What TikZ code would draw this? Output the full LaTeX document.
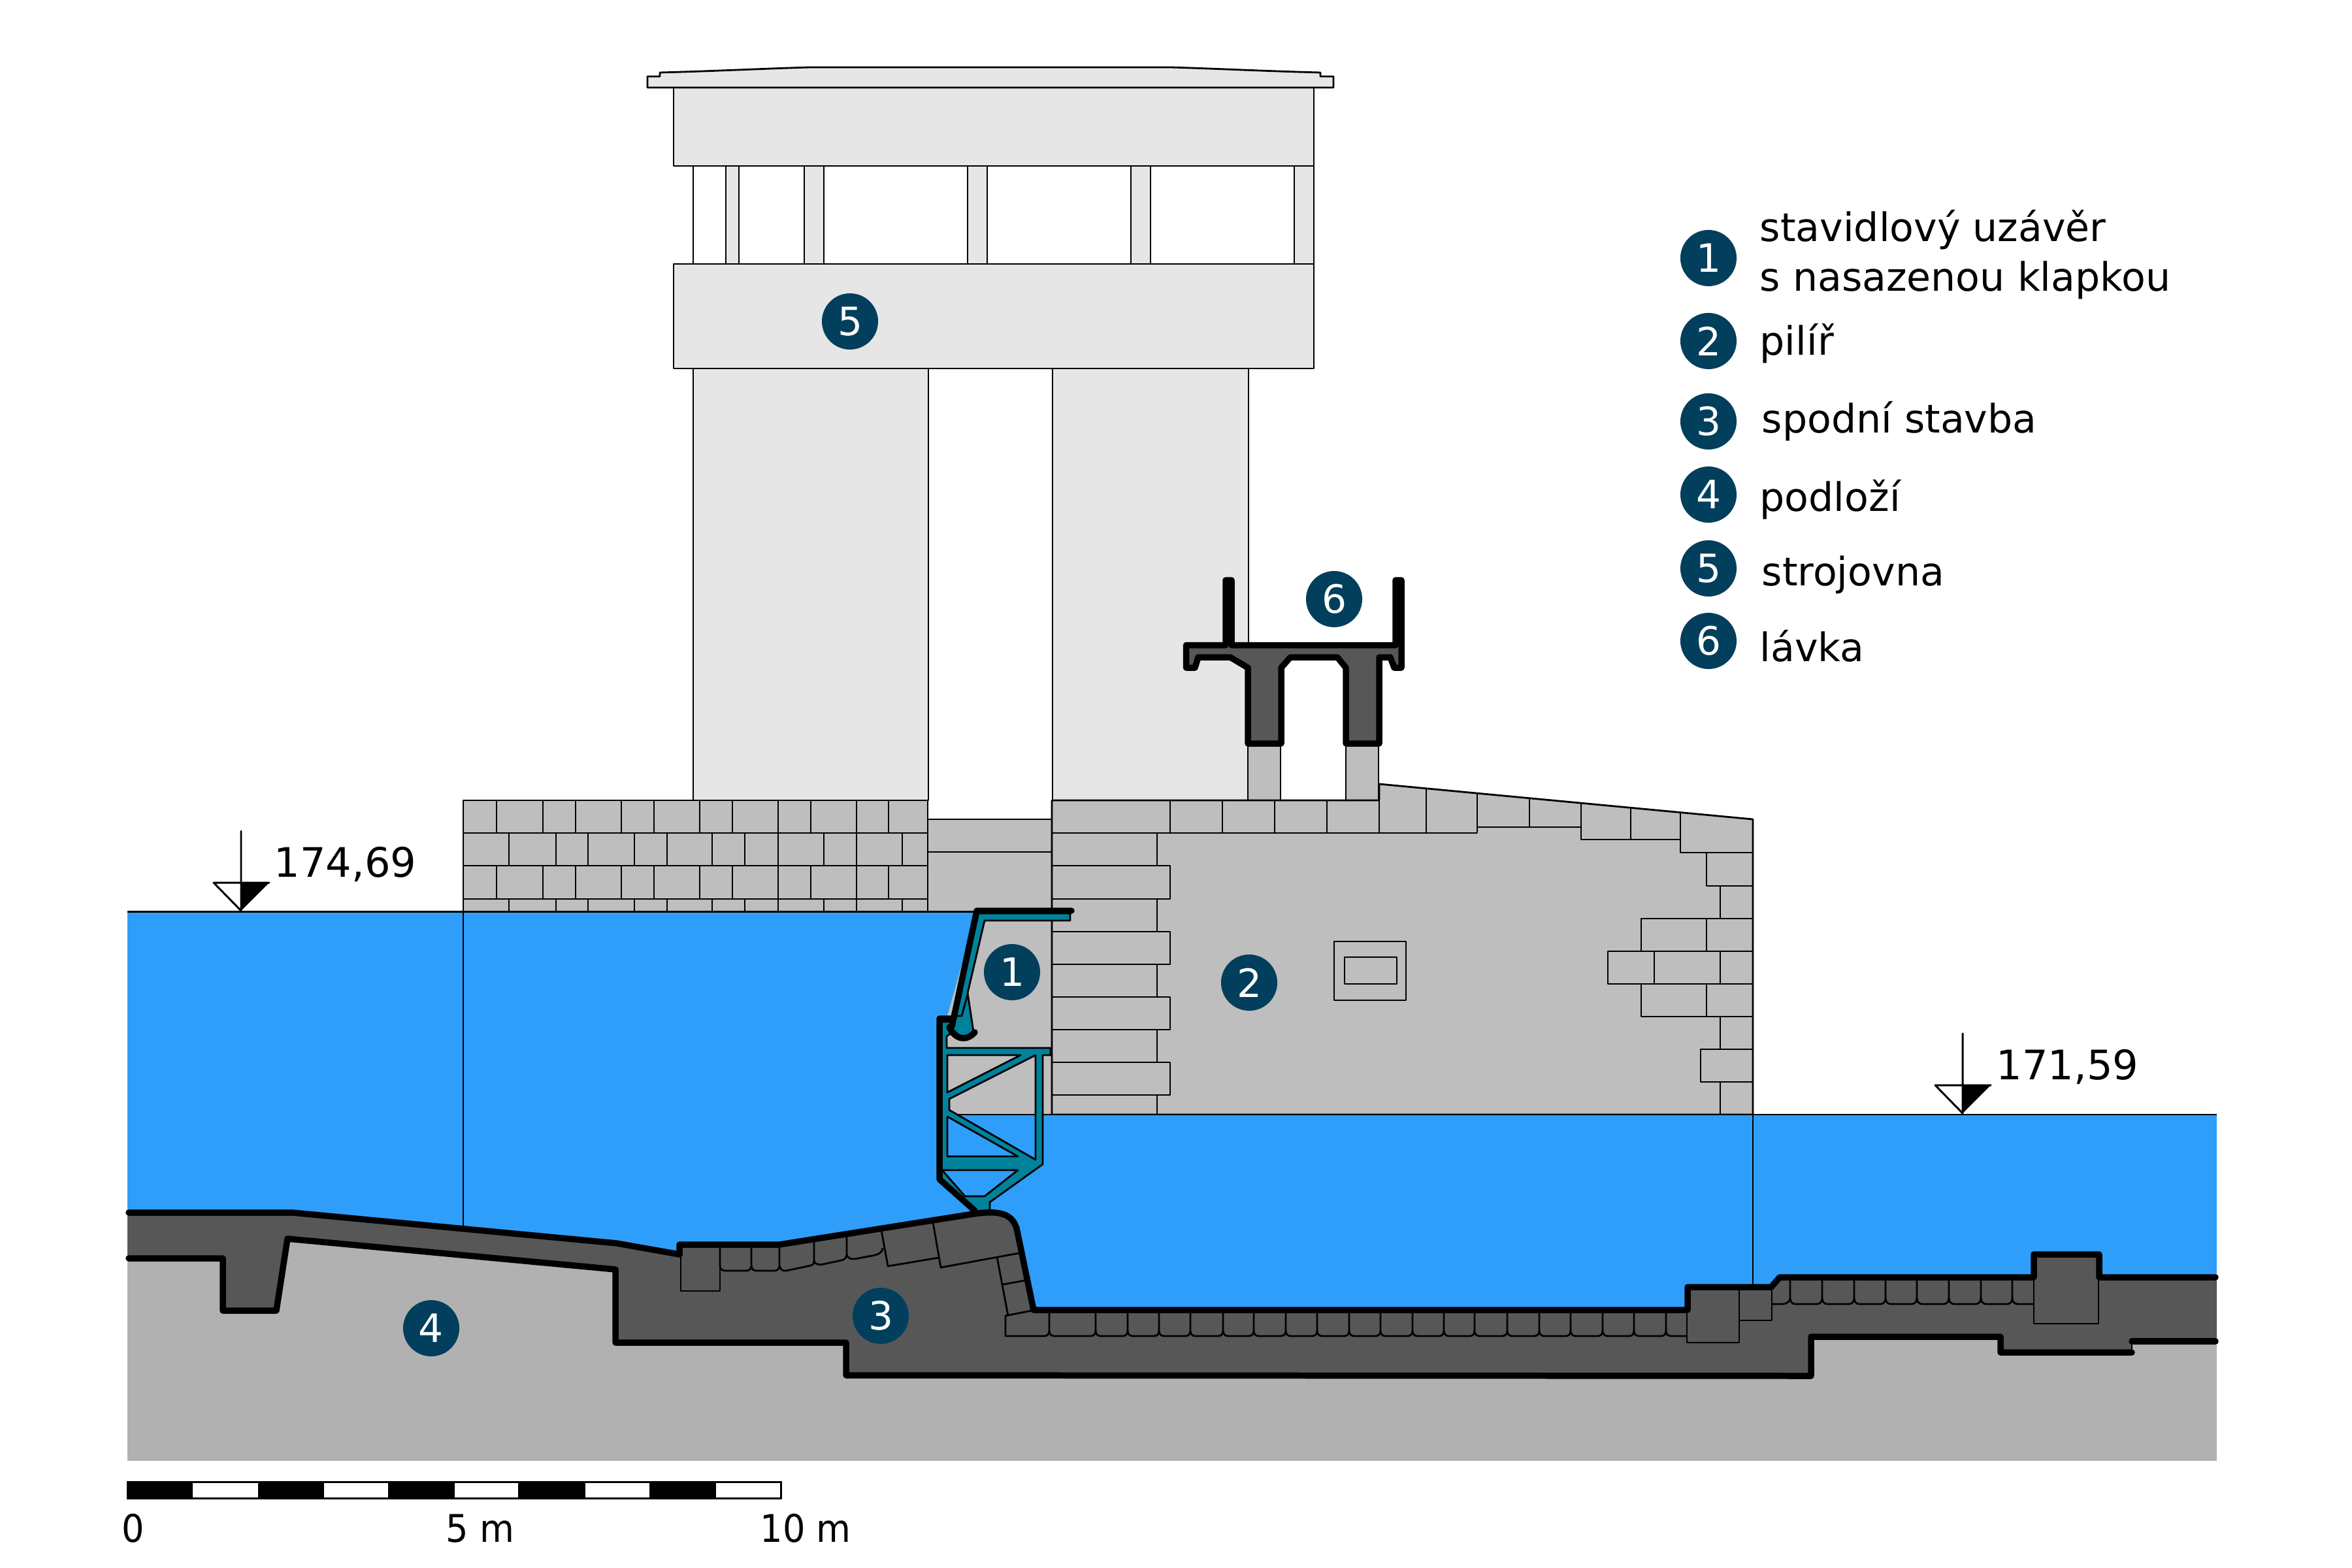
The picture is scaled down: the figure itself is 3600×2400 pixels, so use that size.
\documentclass[tikz,border=0pt]{standalone}
\usepackage{fontspec}
\setmainfont{DejaVu Sans}
\newfontfamily\barfont[FakeStretch=0.93]{DejaVu Sans}
\definecolor{waterblue}{HTML}{2F9EFA}
\definecolor{wallgray}{HTML}{BEBEBE}
\definecolor{towergray}{HTML}{E6E6E6}
\definecolor{rockgray}{HTML}{B1B1B1}
\definecolor{concrete}{HTML}{575757}
\definecolor{gateteal}{HTML}{00829B}
\definecolor{dotblue}{HTML}{023F5C}
\tikzset{
	thin line/.style={line width=0.8pt, line join=round},
	thick line/.style={line width=2.7pt, line join=round, line cap=round},
	numdot/.style={circle, fill=dotblue, text=white, inner sep=0pt, minimum size=0.86cm, font=\fontsize{17}{20}\selectfont},
	tag/.style={anchor=base west, inner sep=0pt, font=\fontsize{17.1}{21.6}\selectfont},
	leveltag/.style={tag, font=\fontsize{17.7}{21.6}\selectfont},
	scaletag/.style={tag, font=\barfont\fontsize{16.6}{20}\selectfont},
}
\begin{document}
\begin{tikzpicture}[x=0.01cm, y=-0.01cm]
	\useasboundingbox (0,0) rectangle (3600,2400);
	% machine house
	\draw [thin line, fill=towergray] (1061,564) rectangle (1421,1225);
	\draw [thin line, fill=towergray] (1611,564) rectangle (1911,1225);
	\draw [thin line] (1061,254) -- (1061,404);
	\foreach \xa/\xb in {1111/1131, 1231/1261, 1481/1511, 1731/1761, 1981/2011}
		\draw [thin line, fill=towergray] (\xa,254) rectangle (\xb,404);
	\draw [thin line, fill=towergray] (1031,134) rectangle (2011,254);
	\draw [thin line, fill=towergray] (1031,404) rectangle (2011,564);
	\draw [thin line, fill=towergray] (991,134) -- (991,117) -- (1010,117) -- (1010,111)
		.. controls (1090,109) and (1170,105) .. (1239,103) -- (1792,103)
		.. controls (1860,105) and (1940,109) .. (2021,111) -- (2021,117) -- (2041,117) -- (2041,134) -- cycle;
	% left wall
	\draw [thin line, fill=wallgray] (709,1225) rectangle (1420,1395);
	\foreach \yy in {1275, 1325, 1376}
		\draw [thin line] (709,\yy) -- (1420,\yy);
	\foreach \xx in {760,831,881,951,1001,1071,1121,1191,1241,1311,1360} {
		\draw [thin line] (\xx,1225) -- (\xx,1275);
		\draw [thin line] (\xx,1325) -- (\xx,1376);
	}
	\foreach \xx in {779,851,900,971,1021,1090,1140,1191,1261,1311,1381} {
		\draw [thin line] (\xx,1275) -- (\xx,1325);
		\draw [thin line] (\xx,1376) -- (\xx,1395);
	}
	% middle part behind the gate
	\draw [thin line, fill=wallgray] (1420,1254) rectangle (1610,1706);
	\draw [thin line] (1420,1304) -- (1610,1304);
	% pier
	\draw [thin line, fill=wallgray] (1910,1225) rectangle (1960,1138);
	\draw [thin line, fill=wallgray] (2060,1225) rectangle (2110,1138);
	\draw [thin line, fill=wallgray] (1610,1225) -- (2111,1225) -- (2111,1200) -- (2683,1254) -- (2683,1706) -- (1610,1706) -- cycle;
	\foreach \xx in {1791,1871,1951,2031}
		\draw [thin line] (\xx,1225) -- (\xx,1275);
	\draw [thin line] (2111,1200) -- (2111,1275);
	\draw [thin line] (2183,1207) -- (2183,1275);
	\draw [thin line] (2261,1214) -- (2261,1275);
	\draw [thin line] (1610,1275) -- (2261,1275);
	\draw [thin line] (2341,1222) -- (2341,1266);
	\draw [thin line] (2261,1266) -- (2420,1266);
	\draw [thin line] (2420,1229) -- (2420,1285) -- (2572,1285) -- (2572,1305) -- (2683,1305);
	\draw [thin line] (2496,1236) -- (2496,1285);
	\draw [thin line] (2572,1243) -- (2572,1285);
	\draw [thin line] (2612,1305) -- (2612,1356) -- (2683,1356);
	\draw [thin line] (2633,1356) -- (2633,1406);
	\draw [thin line] (2683,1406) -- (2512,1406) -- (2512,1456);
	\draw [thin line] (2612,1406) -- (2612,1456);
	\draw [thin line] (2683,1456) -- (2461,1456) -- (2461,1506) -- (2683,1506);
	\draw [thin line] (2532,1456) -- (2532,1506);
	\draw [thin line] (2633,1456) -- (2633,1506);
	\draw [thin line] (2512,1506) -- (2512,1556) -- (2683,1556);
	\draw [thin line] (2612,1506) -- (2612,1556);
	\draw [thin line] (2633,1556) -- (2633,1606);
	\draw [thin line] (2683,1606) -- (2603,1606) -- (2603,1656) -- (2683,1656);
	\draw [thin line] (2633,1656) -- (2633,1706);
	\foreach \ya/\yb in {1325/1376, 1426/1476, 1526/1576, 1626/1676}
		\draw [thin line] (1610,\ya) -- (1791,\ya) -- (1791,\yb) -- (1610,\yb);
	\foreach \ya/\yb in {1275/1325, 1376/1426, 1476/1526, 1576/1626, 1676/1706}
		\draw [thin line] (1771,\ya) -- (1771,\yb);
	\draw [thin line] (2042,1441) rectangle (2152,1531);
	\draw [thin line] (2058,1465) rectangle (2138,1506);
	% rock
	\fill [rockgray] (195,1850) rectangle (3393,2236);
	% water
	\fill [waterblue] (195,1395) -- (1495,1395) -- (1440,1590) -- (1440,1900) -- (1200,1904) -- (1040,1920) -- (944,1905) -- (447,1860) -- (195,1860) -- cycle;
	\fill [waterblue] (1440,1706) rectangle (3393,2010);
	\draw [thin line, line width=0.85pt] (195,1395) -- (1495,1395);
	\draw [thin line] (1453,1706) -- (3393,1706);
	\draw [thin line] (709,1395) -- (709,1880);
	\draw [thin line] (2683,1706) -- (2683,1970);
	% gate
	\draw [thin line, fill=gateteal, even odd rule]
		(1438,1564) -- (1455,1564) -- (1458,1580) -- (1449,1586) -- (1449,1604) -- (1608,1604) -- (1608,1615)
		-- (1596,1615) -- (1596,1782) -- (1515,1840) -- (1515,1856) -- (1490,1856) -- (1438,1805) -- cycle
		(1450,1615) -- (1562,1615) -- (1450,1672) -- cycle
		(1453,1682) -- (1585,1615) -- (1585,1775) -- (1453,1699) -- cycle
		(1450,1709) -- (1558,1770) -- (1450,1770) -- cycle
		(1442,1791) -- (1558,1791) -- (1507,1831) -- (1477,1831) -- cycle;
	\draw [thin line, fill=gateteal] (1495,1398) -- (1638,1398) -- (1638,1409) -- (1507,1409) -- (1481,1520)
		-- (1490,1579) -- (1473,1590) -- (1458,1575) -- (1462,1558) -- cycle;
	\draw [thin line] (1481,1522) -- (1472,1555) -- (1461,1555);
	\draw [thick line] (1456,1559) -- (1438,1559) -- (1438,1805) -- (1492,1853);
	\draw [thick line] (1640,1394) -- (1495,1394) -- (1457,1571);
	\draw [thick line] (1453,1572) .. controls (1462,1592) and (1480,1594) .. (1492,1580);
	% concrete
	\fill [concrete] (195,1856) -- (447,1856) -- (944,1903) -- (1040,1920) -- (1040,1905) -- (1193,1905) -- (1490,1858)
		.. controls (1525,1853) and (1548,1855) .. (1556,1880) -- (1582,2005) -- (2583,2005) -- (2583,1970) -- (2711,1970)
		-- (2724,1955) -- (3113,1955) -- (3113,1920) -- (3213,1920) -- (3213,1955) -- (3393,1955) -- (3393,2053)
		-- (3263,2053) -- (3263,2070) -- (3062,2070) -- (3062,2046) -- (2772,2046) -- (2772,2106) -- (1295,2105)
		-- (1295,2055) -- (942,2055) -- (942,1943) -- (440,1896) -- (423,2006) -- (341,2006) -- (341,1926) -- (195,1926) -- cycle;
	% stones under the bed
	\draw [thin line] (1042,1910) -- (1042,1976) -- (1102,1976) -- (1102,1910);
	\foreach \xa/\xb in {1102/1150, 1150/1193}
		\draw [thin line] (\xa,1908) -- (\xa,1937) .. controls (\xa,1942) and (\xa+3,1945) .. (\xa+8,1945) -- (\xb-8,1945) .. controls (\xb-3,1945) and (\xb,1942) .. (\xb,1937);
	\draw [thin line] (1193,1905) -- (1193,1937) .. controls (1194,1942) and (1197,1946) .. (1203,1945) -- (1241,1937) .. controls (1245,1936) and (1246,1933) .. (1246,1930) -- (1246,1898);
	\draw [thin line] (1246,1930) .. controls (1247,1934) and (1252,1937) .. (1260,1935) -- (1288,1929) .. controls (1293,1928) and (1296,1924) .. (1296,1920) -- (1296,1890);
	\draw [thin line] (1296,1920) .. controls (1297,1925) and (1302,1928) .. (1308,1927) -- (1340,1921) .. controls (1347,1919) and (1351,1915) .. (1351,1910);
	\draw [thin line] (1349,1883) -- (1359,1938) -- (1437,1925);
	\draw [thin line] (1428,1871) -- (1440,1940) -- (1560,1918);
	\draw [thin line] (1526,1924) -- (1543,2014);
	\draw [thin line] (1535,1966) -- (1568,1960);
	\draw [thin line] (1579,2006) -- (1539,2014) -- (1539,2045) -- (1598,2045) .. controls (1603,2045) and (1606,2042) .. (1606,2037) -- (1606,2009);
	\foreach \xa/\xb in {1606/1677, 1677/1726, 1726/1774, 1774/1822, 1822/1872, 1872/1919, 1919/1968, 1968/2016, 2016/2065, 2065/2113, 2113/2162, 2162/2210, 2210/2257, 2257/2307, 2307/2356, 2356/2404, 2404/2453, 2453/2501, 2501/2550}
		\draw [thin line] (\xa,2037) .. controls (\xa,2042) and (\xa+3,2045) .. (\xa+8,2045) -- (\xb-8,2045) .. controls (\xb-3,2045) and (\xb,2042) .. (\xb,2037) -- (\xb,2009);
	\draw [thin line] (2550,2037) .. controls (2550,2042) and (2553,2045) .. (2558,2045) -- (2582,2045);
	\draw [thin line] (2582,1973) -- (2582,2055) -- (2662,2055) -- (2662,1973);
	\draw [thin line] (2662,2021) -- (2712,2021) -- (2712,1973);
	\draw [thin line] (2712,1996) -- (2727,1996) .. controls (2735,1996) and (2740,1992) .. (2740,1987) -- (2740,1959);
	\foreach \xa/\xb in {2740/2789, 2789/2838, 2838/2886, 2886/2934, 2934/2983, 2983/3032, 3032/3080}
		\draw [thin line] (\xa,1987) .. controls (\xa,1992) and (\xa+3,1996) .. (\xa+8,1996) -- (\xb-8,1996) .. controls (\xb-3,1996) and (\xb,1992) .. (\xb,1987) -- (\xb,1959);
	\draw [thin line] (3080,1987) .. controls (3080,1992) and (3083,1996) .. (3088,1996) -- (3113,1996);
	\draw [thin line] (3113,1924) -- (3113,2026) -- (3212,2026) -- (3212,1924);
	\draw [thin line] (3263,2053) -- (3263,2070);
	% bed lines
	\draw [thick line] (197,1856) -- (447,1856) -- (944,1903) -- (1040,1920);
	\draw [thick line] (1040,1920) -- (1040,1905) -- (1193,1905) -- (1490,1858)
		.. controls (1525,1853) and (1548,1855) .. (1556,1880) -- (1582,2005) -- (2583,2005) -- (2583,1970) -- (2711,1970)
		-- (2724,1955) -- (3113,1955) -- (3113,1920) -- (3213,1920) -- (3213,1955) -- (3391,1955);
	\draw [thick line] (197,1926) -- (341,1926) -- (341,2006) -- (423,2006) -- (440,1896) -- (942,1943) -- (942,2055)
		-- (1295,2055) -- (1295,2105) -- (2772,2106) -- (2772,2046) -- (3062,2046) -- (3062,2070) -- (3263,2070);
	\draw [thick line] (3263,2053) -- (3391,2053);
	% footbridge
	\draw [thick line, fill=concrete] (1815.5,987.5) -- (1815.5,1022) -- (1829,1022) -- (1834,1006) -- (1883,1006) -- (1910,1022)
		-- (1910,1138) -- (1961,1138) -- (1961,1022) -- (1975,1006) -- (2047,1006) -- (2060,1022) -- (2060,1138) -- (2111,1138)
		-- (2111,1006) -- (2128,1006) -- (2134,1022) -- (2145,1022) -- (2145,888) -- (2136,888) -- (2136,987.5) -- (1885,987.5)
		-- (1885,888) -- (1876,888) -- (1876,987.5) -- cycle;
	% water levels
	\fill (369,1394) -- (369,1351) -- (412,1351) -- cycle;
	\draw [thin line, line width=0.85pt, line cap=round] (369,1272) -- (369,1394) -- (327,1351) -- (412,1351);
	\fill (3004,1704) -- (3004,1661) -- (3047,1661) -- cycle;
	\draw [thin line, line width=0.85pt, line cap=round] (3004,1582) -- (3004,1704) -- (2962,1661) -- (3047,1661);
	\node [leveltag] (level1) at (419,1342) {174,69};
	\node [leveltag] (level2) at (3055,1652) {171,59};
	% scale
	\fill (194,2267) rectangle (1197,2295);
	\foreach \xa/\xb in {295/395, 496/594, 696/793, 896/994, 1096/1194}
		\fill [white] (\xa,2270) rectangle (\xb,2292);
	\node [scaletag] (scale0) at (186,2360) {0};
	\node [scaletag] (scale5) at (682,2360) {5 m};
	\node [scaletag] (scale10) at (1163,2360) {10 m};
	% numbers in the section
	\node [numdot] (dot1) at (1549,1488) {1};
	\node [numdot] (dot2) at (1912,1504) {2};
	\node [numdot] (dot3) at (1348,2014) {3};
	\node [numdot] (dot4) at (660,2033) {4};
	\node [numdot] (dot5) at (1301,492) {5};
	\node [numdot] (dot6) at (2042,917) {6};
	% legend
	\node [numdot] (leg1) at (2615,395) {1};
	\node [numdot] (leg2) at (2615,522) {2};
	\node [numdot] (leg3) at (2615,645) {3};
	\node [numdot] (leg4) at (2615,757) {4};
	\node [numdot] (leg5) at (2615,870) {5};
	\node [numdot] (leg6) at (2615,981) {6};
	\node [tag, align=left] (text1) at (2693,445) {stavidlový uzávěr\\s nasazenou klapkou};
	\node [tag] (text2) at (2693,543) {pilíř};
	\node [tag] (text3) at (2696,662) {spodní stavba};
	\node [tag] (text4) at (2693,782) {podloží};
	\node [tag] (text5) at (2696,896) {strojovna};
	\node [tag] (text6) at (2693,1012) {lávka};
\end{tikzpicture}
\end{document}
